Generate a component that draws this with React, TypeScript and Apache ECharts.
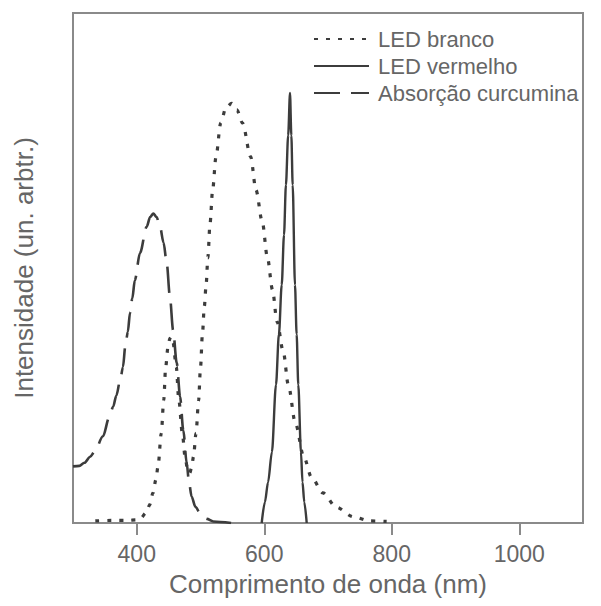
import React, { useEffect, useRef } from "react";
import * as echarts from "echarts";

// LED branco (dotted)
const whiteNm = [335, 360, 385, 400, 405, 415, 420, 425.5, 430, 433.3, 438.5, 442.3, 445.4, 449, 452, 455, 457, 462, 466, 471.5, 476, 480, 483, 486, 489, 493, 497, 500, 503, 506, 509, 511.5, 515, 519, 524.3, 531.7, 540, 549, 557, 566, 578.7, 587, 597, 604.8, 613, 620, 630, 637.7, 649, 662, 674, 692, 713, 740, 766, 792];
const whiteI = [0.4, 0.5, 0.5, 0.6, 0.8, 2, 3.5, 5.9, 8.5, 11, 17.6, 24.1, 30.6, 34.5, 36.2, 36.5, 35.3, 30.6, 24.1, 17.6, 12.8, 10.3, 9.8, 10.8, 13, 17.6, 24, 30.5, 37, 42.5, 47, 52, 58.8, 65.3, 71.8, 78.4, 81.5, 82.3, 81, 78.4, 71.8, 65.3, 59, 52.2, 45.7, 39.5, 33.5, 27.1, 19.5, 13, 9, 5.9, 3.1, 1.2, 0.4, 0.3];

// LED vermelho (solid)
const redNm = [596, 601, 606, 612, 618.4, 623, 627.4, 631, 634, 637.5, 640.4, 642.5, 644.6, 648.2, 650.8, 653.4, 657.6, 660, 662.8, 666.6];
const redI = [0, 4.1, 8, 13.9, 27.1, 37, 46.7, 56.5, 66.3, 76, 84.3, 76, 66.3, 46.7, 37, 27.1, 13.9, 8, 4.1, 0];

// Absorção curcumina (dashed)
const curcNm = [300, 310, 318, 327, 334, 347, 357, 363, 368, 374, 378.4, 382, 386, 389.4, 393, 397, 405, 415.6, 421, 426, 431, 436.5, 442, 447, 452, 457, 462.7, 468, 473, 478.4, 482, 486, 492, 499, 510, 520, 548];
const curcI = [11.1, 11.2, 11.8, 13, 14, 17, 20.8, 22.8, 25, 28, 30.6, 34.6, 37.5, 41.2, 44, 47.6, 52.9, 58.1, 60, 60.7, 60, 58.1, 55, 51, 44.4, 37.8, 31.4, 24.8, 18.2, 11.7, 8, 5.2, 3.2, 2, 0.8, 0.3, 0];

const xTicks = [400, 600, 800, 1000];
const seriesNames = ["LED branco", "LED vermelho", "Absorção curcumina"];

const FONT = "'Liberation Sans', Arial, Helvetica, sans-serif";
const TEXT = "#666";
const FRAME = "#8a8a8a";
const LINE = "#3c3c3c";

const pairs = (xs: number[], ys: number[]) => xs.map((x, i) => [x, ys[i]]);

export default function App() {
  const ref = useRef<HTMLDivElement>(null);
  useEffect(() => {
    if (!ref.current) return;
    const chart = echarts.init(ref.current, undefined, { renderer: "svg" });
    chart.setOption({
      animation: false,
      backgroundColor: "#fff",
      textStyle: { fontFamily: FONT },
      grid: {
        left: 73,
        right: 18,
        top: 13,
        bottom: 83,
        show: true,
        borderColor: FRAME,
        borderWidth: 2,
        backgroundColor: "transparent",
        containLabel: false,
        outerBoundsMode: "none",
      },
      legend: {
        orient: "vertical",
        left: 308,
        top: 23,
        itemWidth: 55,
        itemHeight: 14,
        itemGap: 5,
        data: seriesNames,
        itemStyle: { opacity: 0 },
        textStyle: {
          fontFamily: FONT,
          fontSize: 22,
          color: TEXT,
          lineHeight: 21,
          padding: [0, 0, 0, 4],
        },
      },
      xAxis: {
        type: "value",
        min: 300,
        max: 1100,
        name: "Comprimento de onda (nm)",
        nameLocation: "middle",
        nameGap: 48,
        nameTextStyle: { fontFamily: FONT, fontSize: 26, color: TEXT },
        axisLine: { show: true, lineStyle: { color: FRAME, width: 2 } },
        axisTick: {
          show: true,
          customValues: xTicks,
          length: 12,
          inside: false,
          lineStyle: { color: FRAME, width: 2 },
        },
        axisLabel: {
          show: true,
          customValues: xTicks,
          formatter: (v: number) => String(v),
          fontFamily: FONT,
          fontSize: 23,
          color: TEXT,
          margin: 19,
        },
        splitLine: { show: false },
      },
      yAxis: {
        type: "value",
        min: 0,
        max: 100,
        name: "Intensidade (un. arbtr.)",
        nameLocation: "middle",
        nameGap: 36,
        nameTextStyle: { fontFamily: FONT, fontSize: 26, color: TEXT },
        axisLine: { show: true, lineStyle: { color: FRAME, width: 2 } },
        axisTick: { show: false },
        axisLabel: { show: false },
        splitLine: { show: false },
      },
      series: [
        {
          name: seriesNames[0],
          type: "line",
          data: pairs(whiteNm, whiteI),
          symbol: "none",
          smooth: 0.3,
          smoothMonotone: "x",
          lineStyle: { color: LINE, width: 3.2, type: [4, 8] },
          itemStyle: { color: LINE },
        },
        {
          name: seriesNames[1],
          type: "line",
          data: pairs(redNm, redI),
          symbol: "none",
          smooth: 0.3,
          smoothMonotone: "x",
          lineStyle: { color: LINE, width: 2.4, type: "solid" },
          itemStyle: { color: LINE },
        },
        {
          name: seriesNames[2],
          type: "line",
          data: pairs(curcNm, curcI),
          symbol: "none",
          smooth: 0.3,
          smoothMonotone: "x",
          lineStyle: { color: LINE, width: 2.6, type: [26, 11] },
          itemStyle: { color: LINE },
        },
      ],
    });
    return () => chart.dispose();
  }, []);
  return (
    <div
      ref={ref}
      style={{ position: "fixed", left: 0, top: 0, width: 601, height: 606 }}
    />
  );
}
